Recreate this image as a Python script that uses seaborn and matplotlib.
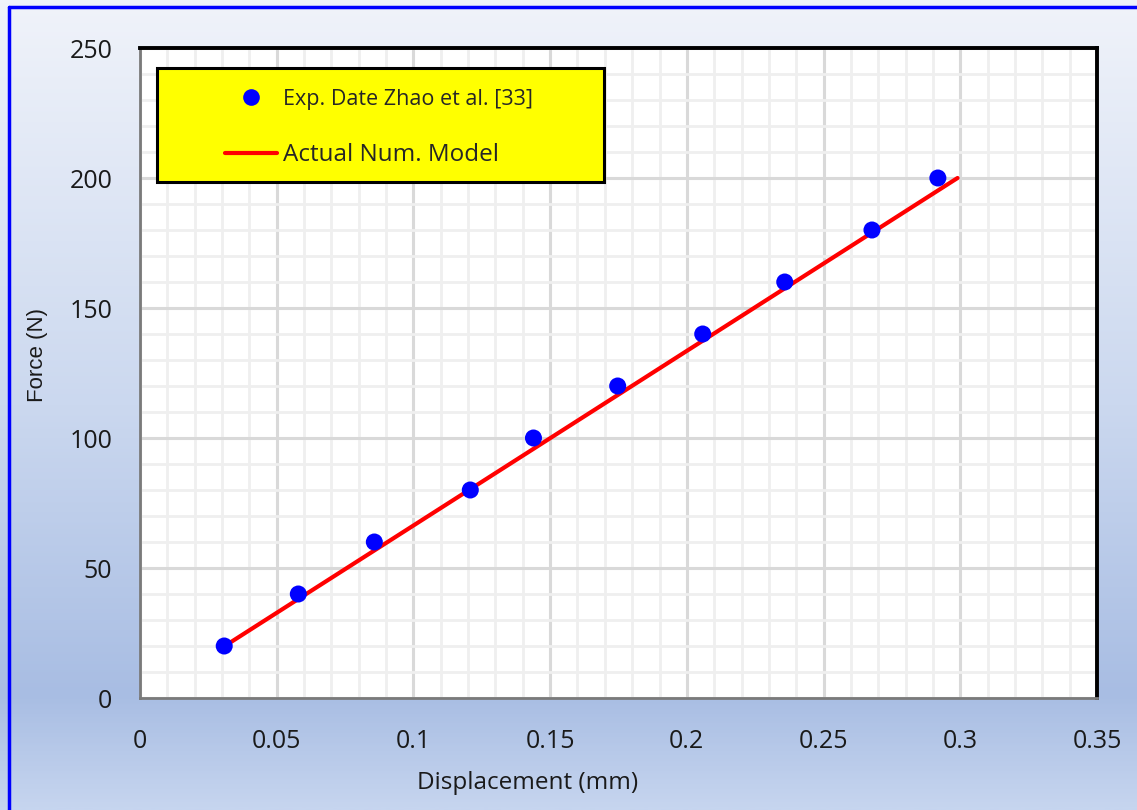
import numpy as np
import pandas as pd
import matplotlib
matplotlib.use("Agg")
import matplotlib.pyplot as plt
from matplotlib.colors import LinearSegmentedColormap
from matplotlib.lines import Line2D
from matplotlib.patches import Rectangle
from matplotlib.ticker import MultipleLocator
import seaborn as sns

# ---- data ----
exp_disp = [0.0308, 0.0579, 0.0857, 0.1208, 0.1439, 0.1747, 0.2058, 0.2358, 0.2677, 0.2918]
exp_force = [20, 40, 60, 80, 100, 120, 140, 160, 180, 200]
model_disp = [0.031, 0.299]
model_force = [20, 200]
exp_label = "Exp. Date Zhao et al. [33]"
model_label = "Actual Num. Model"
x_title = "Displacement (mm)"
y_title = "Force (N)"
x_ticks = [0, 0.05, 0.1, 0.15, 0.2, 0.25, 0.3, 0.35]
x_ticklabels = ["0", "0.05", "0.1", "0.15", "0.2", "0.25", "0.3", "0.35"]
y_ticks = [0, 50, 100, 150, 200, 250]

sns.set_style("white")
plt.rcParams['font.family'] = ['Open Sans', 'DejaVu Sans']

W, H, DPI = 1137, 810, 100
fig = plt.figure(figsize=(W / DPI, H / DPI), dpi=DPI)

# background gradient
bg = fig.add_axes([0, 0, 1, 1], zorder=-10)
cmap = LinearSegmentedColormap.from_list(
    "bg", [(0.0, "#f0f3fa"), (0.5, "#cbd8ef"), (0.86, "#a8bde3"), (1.0, "#c6d5ef")])
grad = np.linspace(0, 1, 400).reshape(-1, 1)
bg.imshow(grad, aspect="auto", cmap=cmap, extent=[0, 1, 0, 1], origin="upper")
bg.set_axis_off()
# blue border (left and top)
fig.add_artist(Line2D([8.5 / W, 8.5 / W], [0, 1 - 6.5 / H], transform=fig.transFigure,
                      color="#0000ff", lw=2.5))
fig.add_artist(Line2D([8.5 / W, 1], [1 - 6.5 / H, 1 - 6.5 / H], transform=fig.transFigure,
                      color="#0000ff", lw=2.5))

ax = fig.add_axes([140 / W, 1 - 698 / H, 957 / W, 650 / H])
ax.set_facecolor("white")

exp_df = pd.DataFrame({"disp": exp_disp, "force": exp_force})
mod_df = pd.DataFrame({"disp": model_disp, "force": model_force})

sns.lineplot(data=mod_df, x="disp", y="force", ax=ax, color="#ff0000", linewidth=3.0,
             zorder=3, legend=False)
sns.scatterplot(data=exp_df, x="disp", y="force", ax=ax, color="#0000ff", s=150,
                edgecolor="none", zorder=4, legend=False)

ax.set_xlim(0, 0.35)
ax.set_ylim(0, 250)
ax.set_xticks(x_ticks)
ax.set_xticklabels(x_ticklabels)
ax.set_yticks(y_ticks)
ax.xaxis.set_minor_locator(MultipleLocator(0.01))
ax.yaxis.set_minor_locator(MultipleLocator(10))
ax.grid(which="minor", color="#efefef", linewidth=2.0, zorder=0)
ax.grid(which="major", color="#d9d9d9", linewidth=2.2, zorder=1)
ax.set_axisbelow(True)

ax.tick_params(axis="both", which="major", direction="out", length=7, width=2,
               color="#c0c0c0", labelsize=18, labelcolor="#1a1a1a")
ax.tick_params(axis="x", pad=15)
ax.tick_params(axis="y", pad=13)
ax.tick_params(which="minor", length=0)

for s in ["top", "right"]:
    ax.spines[s].set_color("black")
    ax.spines[s].set_linewidth(2.8)
    ax.spines[s].set_visible(True)
for s in ["left", "bottom"]:
    ax.spines[s].set_color("#7a7a7a")
    ax.spines[s].set_linewidth(2.0)
    ax.spines[s].set_visible(True)

ax.set_xlabel(x_title, fontsize=17.5, color="#1a1a1a")
ax.set_ylabel(y_title, fontsize=16, color="#1a1a1a",
              family=["Liberation Sans", "DejaVu Sans"])
ax.xaxis.set_label_coords((528 - 140) / 957, -(783 - 698) / 650)
ax.yaxis.set_label_coords((37 - 140) / 957, 1 - (355 - 48) / 650)
ax.xaxis.label.set_va("center")
ax.yaxis.label.set_va("center")

# legend box
box = Rectangle(((157 - 140) / 957, 1 - (182 - 48) / 650), (604 - 157) / 957, (182 - 68) / 650,
                transform=ax.transAxes, facecolor="#ffff00", edgecolor="black",
                linewidth=2.2, zorder=5)
ax.add_patch(box)
handles = [
    Line2D([], [], linestyle="none", marker="o", markersize=12, color="#0000ff",
           markeredgecolor="none"),
    Line2D([], [], color="#ff0000", linewidth=3.0),
]
leg = ax.legend(handles, [exp_label, model_label], loc="upper left",
                bbox_to_anchor=((225 - 140) / 957, 1 - (89 - 48) / 650),
                frameon=False, borderpad=0, borderaxespad=0, handlelength=2.4,
                handletextpad=0.3, labelspacing=1.52, fontsize=15.5)
leg.set_zorder(6)
leg.get_texts()[1].set_fontsize(17.5)

fig.savefig("out.png", dpi=DPI)
